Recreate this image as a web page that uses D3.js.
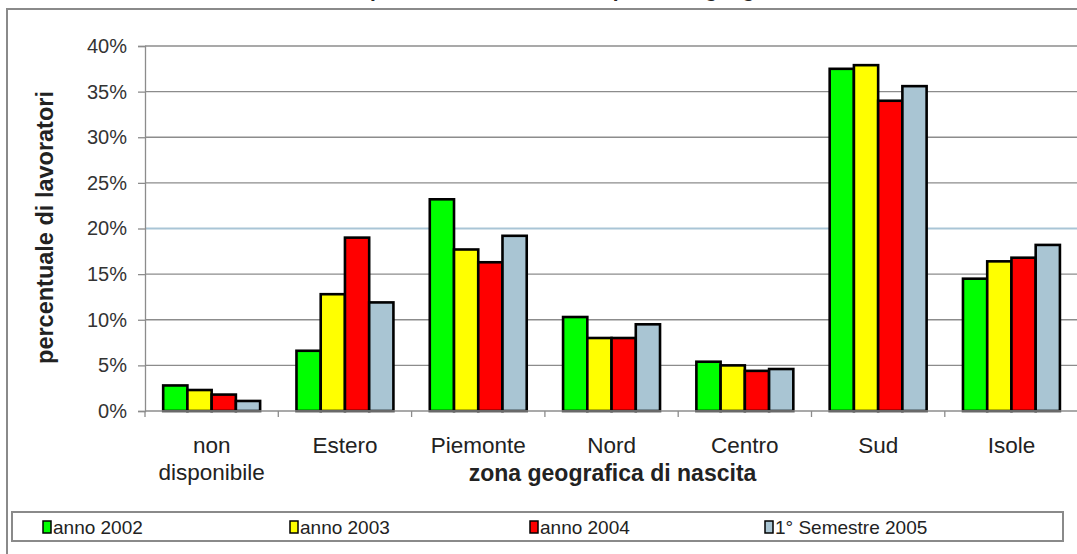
<!DOCTYPE html>
<html>
<head>
<meta charset="utf-8">
<script src="https://cdn.jsdelivr.net/npm/d3@7"></script>
<style>
  html, body { margin: 0; padding: 0; background: #fff; }
  svg { display: block; font-family: "Liberation Sans", Arial, sans-serif; }
</style>
</head>
<body>
<svg id="chart" width="1077" height="554"></svg>
<script>
// data
const categories = [["non", "disponibile"], ["Estero"], ["Piemonte"], ["Nord"], ["Centro"], ["Sud"], ["Isole"]];
const seriesNames = ["anno 2002", "anno 2003", "anno 2004", "1° Semestre 2005"];
const seriesColours = ["#00ff00", "#ffff00", "#ff0000", "#a9c5d3"];
const anno2002 = [2.8, 6.6, 23.2, 10.3, 5.4, 37.5, 14.5];
const anno2003 = [2.3, 12.8, 17.7, 8.0, 5.0, 37.9, 16.4];
const anno2004 = [1.8, 19.0, 16.3, 8.0, 4.4, 34.0, 16.8];
const semestre2005 = [1.1, 11.9, 19.2, 9.5, 4.6, 35.6, 18.2];
const yTicks = [0, 5, 10, 15, 20, 25, 30, 35, 40];

const series = [anno2002, anno2003, anno2004, semestre2005];

const svg = d3.select("#chart");
const width = 1077, height = 554;
const margin = { left: 145, right: 0, top: 46, bottom: 143 };
const plotW = 7 * 133.3;
const plotH = height - margin.top - margin.bottom;

// outer chart frame
svg.append("rect")
    .attr("x", 7).attr("y", 9)
    .attr("width", width + 10).attr("height", height + 10)
    .attr("fill", "none")
    .attr("stroke", "#8a8a8a")
    .attr("stroke-width", 2);

// title (cut off at the top of the picture, only descenders show)
svg.append("text")
    .attr("x", 349).attr("y", -3)
    .attr("font-size", 21).attr("font-weight", "bold")
    .attr("fill", "#222")
    .text("Ripartizione dei lavoratori per zona geografica di nascita");

const g = svg.append("g").attr("transform", `translate(${margin.left},${margin.top})`);

const x = d3.scaleBand().domain(d3.range(categories.length)).range([0, plotW]).paddingInner(0).paddingOuter(0);
const barW = x.bandwidth() / 5.5;
const y = d3.scaleLinear().domain([0, 40]).range([plotH, 0]);

// gridlines
g.append("g").attr("class", "grid")
    .selectAll("line")
    .data(yTicks.filter(d => d > 0))
    .join("line")
    .attr("x1", 0).attr("x2", plotW + 10)
    .attr("y1", d => y(d)).attr("y2", d => y(d))
    .attr("stroke", d => d === 20 ? "#a9c5d6" : "#8c8c8c")
    .attr("stroke-width", d => d === 20 ? 2 : 1.3);

// y axis
const yAxis = g.append("g").call(d3.axisLeft(y).tickValues(yTicks).tickSize(7).tickPadding(11).tickFormat(d => d + "%"));
yAxis.select(".domain").attr("stroke", "#8c8c8c").attr("stroke-width", 1.3);
yAxis.selectAll(".tick line").attr("stroke", "#8c8c8c").attr("stroke-width", 1.3);
yAxis.selectAll(".tick text").attr("font-size", 20).attr("fill", "#333").attr("font-family", "Liberation Sans, Arial, sans-serif");

// bars
const groups = g.selectAll("g.cat")
    .data(categories.map((c, i) => i))
    .join("g")
    .attr("class", "cat")
    .attr("transform", i => `translate(${x(i) + barW * 0.75},0)`);

groups.selectAll("rect")
    .data(i => series.map((s, k) => ({ k, v: s[i] })))
    .join("rect")
    .attr("x", d => d.k * barW)
    .attr("y", d => y(d.v))
    .attr("width", barW)
    .attr("height", d => plotH - y(d.v))
    .attr("fill", d => seriesColours[d.k])
    .attr("stroke", "#000")
    .attr("stroke-width", 2.6);

// x axis baseline + ticks
const xAxisG = g.append("g").attr("transform", `translate(0,${plotH})`);
xAxisG.append("line")
    .attr("x1", 0).attr("x2", plotW + 10)
    .attr("stroke", "#8c8c8c").attr("stroke-width", 1.3);
xAxisG.selectAll("line.tick")
    .data(d3.range(categories.length + 1))
    .join("line")
    .attr("class", "tick")
    .attr("x1", i => i * x.step()).attr("x2", i => i * x.step())
    .attr("y1", 0).attr("y2", 6)
    .attr("stroke", "#8c8c8c").attr("stroke-width", 1.3);

xAxisG.selectAll("text.cat-label")
    .data(categories)
    .join("text")
    .attr("class", "cat-label")
    .attr("x", (d, i) => x(i) + x.bandwidth() / 2)
    .attr("y", 42)
    .attr("text-anchor", "middle")
    .attr("font-size", 22.5)
    .attr("fill", "#222")
    .selectAll("tspan")
    .data(d => d)
    .join("tspan")
    .attr("x", function () { return d3.select(this.parentNode).attr("x"); })
    .attr("dy", (d, i) => i === 0 ? 0 : 27)
    .text(d => d);

// axis titles
g.append("text")
    .attr("x", plotW / 2 + 1).attr("y", plotH + 70)
    .attr("text-anchor", "middle")
    .attr("font-size", 23).attr("font-weight", "bold")
    .attr("fill", "#222")
    .text("zona geografica di nascita");

svg.append("text")
    .attr("transform", `translate(53,${margin.top + plotH / 2 - 1}) rotate(-90)`)
    .attr("text-anchor", "middle")
    .attr("font-size", 23.5).attr("font-weight", "bold")
    .attr("fill", "#222")
    .text("percentuale di lavoratori");

// legend
const legend = svg.append("g").attr("transform", "translate(12,512)");
legend.append("rect")
    .attr("width", 1051).attr("height", 29)
    .attr("fill", "#fff")
    .attr("stroke", "#8a8a8a")
    .attr("stroke-width", 2);

const legendX = [31, 278, 518, 753];
const items = legend.selectAll("g.item")
    .data(seriesNames)
    .join("g")
    .attr("class", "item")
    .attr("transform", (d, i) => `translate(${legendX[i]},0)`);
items.append("rect")
    .attr("x", 0).attr("y", 9)
    .attr("width", 8).attr("height", 12)
    .attr("fill", (d, i) => seriesColours[i])
    .attr("stroke", "#000").attr("stroke-width", 1.5);
items.append("text")
    .attr("x", 10).attr("y", 22)
    .attr("font-size", 19)
    .attr("fill", "#222")
    .text(d => d);
</script>
</body>
</html>
